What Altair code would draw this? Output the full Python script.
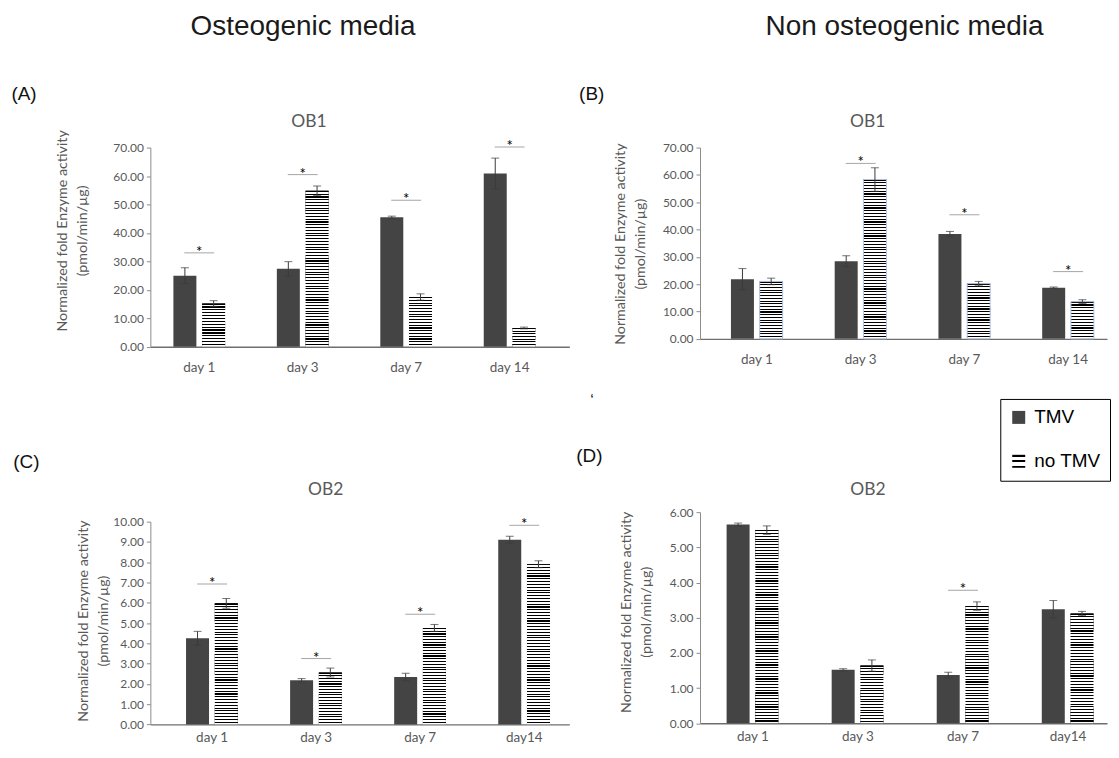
import altair as alt
import pandas as pd

SERIES = ["TMV", "no TMV"]
DAYS_OB1 = ["day 1", "day 3", "day 7", "day 14"]
DAYS_OB2 = ["day 1", "day 3", "day 7", "day14"]
HEADERS = ["Osteogenic media", "Non osteogenic media"]
Y_TITLE = ["Normalized fold Enzyme activity", "(pmol/min/µg)"]

# (A) OB1, osteogenic media
A_TMV = [25.0, 27.4, 45.5, 60.9]
A_TMV_ERR = [2.8, 2.5, 0.4, 5.4]
A_NO = [15.2, 54.8, 17.5, 6.6]
A_NO_ERR = [1.0, 1.7, 1.1, 0.3]
A_SIG = [33.0, 60.5, 51.5, 70.2]

# (B) OB1, non osteogenic media
B_TMV = [21.8, 28.4, 38.4, 18.7]
B_TMV_ERR = [3.9, 2.0, 0.9, 0.25]
B_NO = [21.0, 58.3, 20.2, 13.6]
B_NO_ERR = [1.2, 4.3, 0.8, 0.7]
B_SIG = [None, 64.2, 45.4, 24.6]

# (C) OB2, osteogenic media
C_TMV = [4.25, 2.18, 2.34, 9.11]
C_TMV_ERR = [0.34, 0.08, 0.18, 0.17]
C_NO = [5.97, 2.56, 4.76, 7.90]
C_NO_ERR = [0.24, 0.22, 0.17, 0.17]
C_SIG = [6.92, 3.25, 5.43, 9.82]

# (D) OB2, non osteogenic media
D_TMV = [5.65, 1.52, 1.37, 3.24]
D_TMV_ERR = [0.04, 0.03, 0.08, 0.25]
D_NO = [5.49, 1.64, 3.33, 3.12]
D_NO_ERR = [0.12, 0.16, 0.12, 0.06]
D_SIG = [None, None, 3.78, None]

TMV_COLOR = "#444444"
ERR_COLOR = "#3a3a3a"
SIG_COLOR = "#808080"
TEXT_GRAY = "#595959"

LEGEND_STRIPES = ("{gradient: 'linear', x1: 0, y1: 0, x2: 0, y2: 1, stops: ["
                  "{offset: 0, color: '#000'}, {offset: 0.15, color: '#000'},"
                  "{offset: 0.15, color: '#fff'}, {offset: 0.42, color: '#fff'},"
                  "{offset: 0.42, color: '#000'}, {offset: 0.58, color: '#000'},"
                  "{offset: 0.58, color: '#fff'}, {offset: 0.85, color: '#fff'},"
                  "{offset: 0.85, color: '#000'}, {offset: 1, color: '#000'}]}")


def stripes(n, dark=0.4):
    stops = []
    for i in range(n):
        a = i / n
        b = (i + dark) / n
        c = (i + 1) / n
        stops += [{"offset": a, "color": "#000"}, {"offset": b, "color": "#000"},
                  {"offset": b, "color": "#fff"}, {"offset": min(c, 1.0), "color": "#fff"}]
    return {"gradient": "linear", "x1": 0, "y1": 0, "x2": 0, "y2": 1, "stops": stops}


def note(text, dx, dy, size, font, color, align="left", baseline="middle"):
    return alt.Chart(pd.DataFrame({"t": [text]})).mark_text(
        align=align, baseline=baseline, fontSize=size, font=font, color=color
    ).encode(text="t:N", x=alt.value(dx), y=alt.value(dy))


def panel(days, tmv, tmv_err, no, no_err, sig, p):
    rows = []
    for i, d in enumerate(days):
        rows.append(dict(day=d, series="TMV", value=tmv[i],
                         lo=tmv[i] - tmv_err[i], hi=tmv[i] + tmv_err[i]))
        rows.append(dict(day=d, series="no TMV", value=no[i],
                         lo=no[i] - no_err[i], hi=no[i] + no_err[i]))
    df = pd.DataFrame(rows)
    sig_df = pd.DataFrame({"day": [d for d, s in zip(days, sig) if s is not None],
                           "sig": [s for s in sig if s is not None]})

    x = alt.X("day:N", sort=days,
              scale=alt.Scale(domain=days, paddingInner=0.5,
                              paddingOuter=p["po"], align=p["al"]),
              axis=alt.Axis(title=None, labelAngle=0, ticks=False,
                            labelPadding=p["xlp"], labelFontSize=13.5,
                            domainColor="#6e6e6e", domainWidth=1.3))
    xo = alt.XOffset("series:N", sort=SERIES,
                     scale=alt.Scale(domain=SERIES, paddingInner=0.2, paddingOuter=0))
    yaxis = alt.Axis(values=list(range(0, p["ymax"] + 1, p["ystep"])), format=".2f",
                     grid=False, title=Y_TITLE, titlePadding=p["tpad"],
                     titleY=p["H"] / 2 + p["tshift"], titleLineHeight=20,
                     tickSize=4, labelPadding=3, domainColor="#8c8c8c",
                     tickColor="#8c8c8c")
    yscale = alt.Scale(domain=[0, p["ymax"]], nice=False)

    def Y(field):
        return alt.Y(field, type="quantitative", scale=yscale, axis=yaxis)

    base = alt.Chart(df)
    layers = [base.mark_bar().encode(
        x=x, xOffset=xo, y=Y("value"),
        fill=alt.Fill("series:N", sort=SERIES,
                      scale=alt.Scale(domain=SERIES,
                                      range=[TMV_COLOR, {"expr": LEGEND_STRIPES}]),
                      legend=alt.Legend(title=None, orient="none",
                                        legendX=852, legendY=252)))]
    # horizontal-line pattern for the "no TMV" bars
    for _, r in df[df.series == "no TMV"].iterrows():
        hpx = r["value"] / p["ymax"] * p["H"]
        n = max(1, round(hpx / 2.8))
        kw = {}
        if p.get("stroke"):
            kw = dict(stroke=p["stroke"], strokeWidth=1)
        layers.append(alt.Chart(pd.DataFrame([r])).mark_bar(fill=stripes(n), **kw).encode(
            x=x, xOffset=xo, y=Y("value")))
    layers.append(base.mark_rule(color=ERR_COLOR, strokeWidth=1).encode(
        x=x, xOffset=xo, y=Y("lo"), y2="hi"))
    layers.append(base.mark_tick(color=ERR_COLOR, size=8, thickness=1).encode(
        x=x, xOffset=xo, y=Y("hi")))
    layers.append(base.mark_tick(color=ERR_COLOR, size=8, thickness=1).encode(
        x=x, xOffset=xo, y=Y("lo")))
    sig_base = alt.Chart(sig_df)
    layers.append(sig_base.mark_tick(color=SIG_COLOR, size=30, thickness=1).encode(
        x=x, y=Y("sig")))
    layers.append(sig_base.mark_text(text="*", fontSize=15, font="Lato", color="#000",
                                     baseline="alphabetic", dy=4).encode(
        x=x, y=Y("sig")))
    # annotations
    layers.append(note(p["label"], p["label_dx"], p["label_dy"], 19,
                       "Liberation Sans", "#111"))
    layers.append(note(p["title"], p["title_dx"], p["title_dy"], 17.5,
                       "Lato", TEXT_GRAY, align="center"))
    if p.get("header"):
        layers.append(note(p["header"], p["header_dx"], p["header_dy"], 28,
                           "Liberation Sans", "#1a1a1a", align="center",
                           baseline="top"))
    if p.get("extra"):
        layers.append(note(p["extra"], p["extra_dx"], p["extra_dy"], 16,
                           "Liberation Sans", "#111"))
    return alt.layer(*layers).properties(width=p["W"], height=p["H"])


# panel origins: A/C at x=150, B/D at x=701; A/B top at y=147
PA = dict(ymax=70, ystep=10, W=420, H=199.7, po=0.275, al=0.405, xlp=14, tpad=23,
          tshift=-16.8, label="(A)", label_dx=-139.3, label_dy=-54,
          title="OB1", title_dx=159, title_dy=-26,
          header=HEADERS[0], header_dx=153, header_dy=-135)
PB = dict(ymax=70, ystep=10, W=408, H=191.7, po=0.2115, al=0.705, xlp=14, tpad=15,
          tshift=0.5, label="(B)", label_dx=-121.2, label_dy=-54,
          title="OB1", title_dx=168, title_dy=-25.3,
          header=HEADERS[1], header_dx=205, header_dy=-135,
          extra="\u2018", extra_dx=-110, extra_dy=254, stroke="#b4c7e7")
PC = dict(ymax=10, ystep=1, W=420, H=203.3, po=0.263, al=0.652, xlp=6, tpad=2,
          tshift=-2.5, label="(C)", label_dx=-137.5, label_dy=-60,
          title="OB2", title_dx=175.7, title_dy=-31.7)
PD = dict(ymax=6, ystep=1, W=408, H=211.6, po=0.187, al=0.677, xlp=6, tpad=16,
          tshift=-6, label="(D)", label_dx=-124, label_dy=-56.7,
          title="OB2", title_dx=168.4, title_dy=-22.7)

chart_a = panel(DAYS_OB1, A_TMV, A_TMV_ERR, A_NO, A_NO_ERR, A_SIG, PA)
chart_b = panel(DAYS_OB1, B_TMV, B_TMV_ERR, B_NO, B_NO_ERR, B_SIG, PB)
chart_c = panel(DAYS_OB2, C_TMV, C_TMV_ERR, C_NO, C_NO_ERR, C_SIG, PC)
chart_d = panel(DAYS_OB2, D_TMV, D_TMV_ERR, D_NO, D_NO_ERR, D_SIG, PD)

col1 = alt.vconcat(chart_a, chart_c, spacing=78)
col2 = alt.vconcat(chart_b, chart_d, spacing=37.5)

chart = alt.hconcat(col1, col2, spacing=7).properties(
    padding={"left": 2.7, "top": 4, "right": 0, "bottom": 0}
).configure_view(stroke=None).configure_axis(
    labelFont="Lato", labelFontSize=12, labelColor=TEXT_GRAY,
    titleFont="Lato", titleFontSize=14.3, titleColor=TEXT_GRAY,
    titleFontWeight="normal"
).configure_legend(
    strokeColor="#000", fillColor="#fff", padding=9,
    labelFont="Liberation Sans", labelFontSize=19, labelColor="#000",
    symbolType="square", symbolSize=169, symbolStrokeWidth=0,
    labelOffset=6, rowPadding=24
)

chart.save("out.html", embed_options={"renderer": "svg", "actions": False})
